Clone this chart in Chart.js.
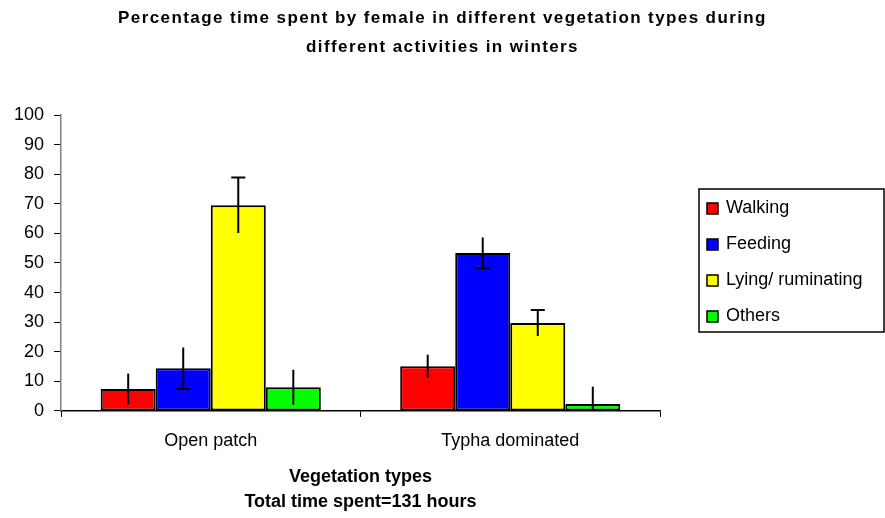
<!DOCTYPE html>
<html>
<head>
<meta charset="utf-8">
<script src="https://cdn.jsdelivr.net/npm/chart.js@4/dist/chart.umd.min.js"></script>
<style>
  html, body { margin: 0; padding: 0; background: #fff; }
  #wrap { width: 885px; height: 518px; }
</style>
</head>
<body>
<div id="wrap"><canvas id="chart"></canvas></div>
<script>
// data
var vegetation = ['Open patch', 'Typha dominated'];
var activities = ['Walking', 'Feeding', 'Lying/ ruminating', 'Others'];
var walking  = [7.4, 15.1];
var feeding  = [14.4, 53.4];
var lying    = [69.5, 29.7];
var others   = [8.0, 2.3];
// error bar half-lengths
var walkingErr = [5.2, 3.9];
var feedingErr = [7.0, 5.2];
var lyingErr   = [9.4, 4.4];
var othersErr  = [5.9, 5.9];
// which end has a cap ('low', 'high' or none)
var walkingCap = ['', ''];
var feedingCap = ['low', 'low'];
var lyingCap   = ['high', 'high'];
var othersCap  = ['', ''];
var yTicks = [0, 10, 20, 30, 40, 50, 60, 70, 80, 90, 100];

var FONT = '"Liberation Sans", Arial, sans-serif';
Chart.defaults.font.family = FONT;
Chart.defaults.color = '#000';

var colours = ['#FF0000', '#0000FF', '#FFFF00', '#00FF00'];
var values = [walking, feeding, lying, others];
var errs = [walkingErr, feedingErr, lyingErr, othersErr];
var caps = [walkingCap, feedingCap, lyingCap, othersCap];

var datasets = activities.map(function(name, i) {
  return {
    label: name,
    data: values[i],
    err: errs[i],
    caps: caps[i],
    backgroundColor: colours[i],
    borderColor: '#000',
    borderWidth: 2,
    borderSkipped: false,
    barPercentage: 1.0,
    categoryPercentage: 0.735
  };
});

var errorBars = {
  id: 'errorBars',
  afterDatasetsDraw: function(chart) {
    var ctx = chart.ctx, y = chart.scales.y, a = chart.chartArea;
    ctx.save();
    ctx.beginPath();
    ctx.rect(a.left, a.top - 20, a.right - a.left, a.bottom - a.top + 20);
    ctx.clip();
    ctx.strokeStyle = '#000';
    ctx.lineWidth = 2;
    chart.data.datasets.forEach(function(ds, di) {
      chart.getDatasetMeta(di).data.forEach(function(bar, i) {
        var v = ds.data[i], e = ds.err[i];
        var yHi = y.getPixelForValue(v + e), yLo = y.getPixelForValue(v - e);
        ctx.beginPath();
        ctx.moveTo(bar.x, yHi);
        ctx.lineTo(bar.x, yLo);
        if (ds.caps[i] === 'high') { ctx.moveTo(bar.x - 7, yHi); ctx.lineTo(bar.x + 7, yHi); }
        if (ds.caps[i] === 'low')  { ctx.moveTo(bar.x - 7, yLo); ctx.lineTo(bar.x + 7, yLo); }
        ctx.stroke();
      });
    });
    ctx.restore();
  }
};

var boxLegend = {
  id: 'boxLegend',
  afterDraw: function(chart) {
    var ctx = chart.ctx, a = chart.chartArea;
    var left = a.right + 39, top = 189, w = 185, h = 143;
    ctx.save();
    ctx.strokeStyle = '#000';
    ctx.lineWidth = 1.5;
    ctx.strokeRect(left, top, w, h);
    ctx.font = '18px ' + FONT;
    ctx.textBaseline = 'middle';
    chart.data.datasets.forEach(function(ds, i) {
      var cy = top + 19 + i * 36;
      ctx.fillStyle = ds.backgroundColor;
      ctx.fillRect(left + 8, cy - 5, 11, 11);
      ctx.lineWidth = 1.5;
      ctx.strokeRect(left + 8, cy - 5, 11, 11);
      ctx.fillStyle = '#000';
      ctx.fillText(ds.label, left + 27, cy);
    });
    ctx.restore();
  }
};

var chart = new Chart('chart', {
  type: 'bar',
  data: { labels: vegetation, datasets: datasets },
  plugins: [errorBars, boxLegend],
  options: {
    responsive: true,
    maintainAspectRatio: false,
    animation: false,
    layout: { padding: 0 },
    plugins: {
      legend: { display: false },
      tooltip: { enabled: false },
      title: {
        display: true,
        text: ['Percentage time spent by female in different vegetation types during',
               'different activities in winters'],
        font: { size: 17, weight: 'bold', lineHeight: 1.706 },
        color: '#000',
        padding: { top: 3.5, bottom: 53.5 }
      }
    },
    scales: {
      x: {
        grid: { display: true, drawOnChartArea: false, drawTicks: true, tickLength: 6, color: '#000', offset: true },
        border: { display: true, color: '#000', width: 1.5 },
        ticks: { font: { size: 18 }, padding: 13, color: '#000' },
        title: {
          display: true,
          text: ['Vegetation types', 'Total time spent=131 hours'],
          font: { size: 18, weight: 'bold', lineHeight: 1.389 },
          color: '#000',
          padding: { top: 0, bottom: 3.5 }
        }
      },
      y: {
        min: 0,
        max: 100,
        afterBuildTicks: function(s) { s.ticks = yTicks.map(function(v) { return { value: v }; }); },
        afterFit: function(s) { s.width = 61; },
        grid: { display: true, drawOnChartArea: false, drawTicks: true, tickLength: 7, color: '#000' },
        border: { display: true, color: '#808080', width: 1.5 },
        ticks: { font: { size: 18 }, padding: 10, color: '#000' }
      },
      yRight: {
        position: 'right',
        display: true,
        grid: { display: false, drawTicks: false },
        border: { display: false },
        ticks: { display: false },
        afterFit: function(s) { s.width = 225; }
      }
    }
  }
});

// the chart title is letter-spaced in the original
var titleDraw = chart.titleBlock.draw;
chart.titleBlock.draw = function() {
  var ctx = this.ctx;
  ctx.save();
  ctx.letterSpacing = '1.4px';
  titleDraw.apply(this, arguments);
  ctx.restore();
};
chart.draw();
</script>
</body>
</html>
